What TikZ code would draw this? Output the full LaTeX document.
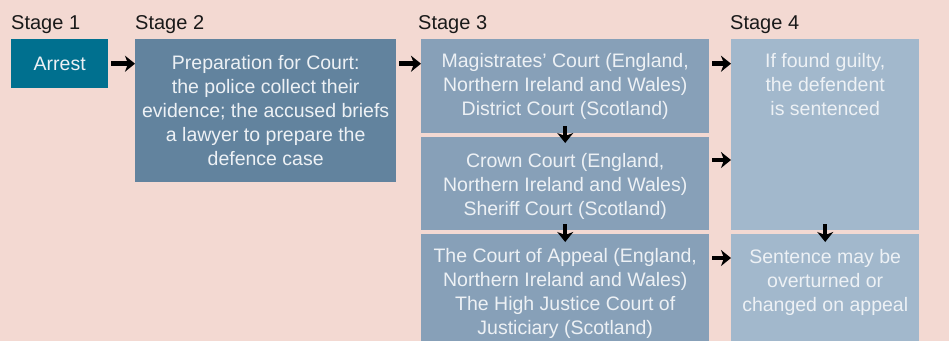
\documentclass[tikz,border=0pt]{standalone}
\usepackage{fontspec}
\setmainfont{Liberation Sans}
\usetikzlibrary{arrows.meta,positioning}

\definecolor{bgpink}{HTML}{F3D9D2}
\definecolor{arrestblue}{HTML}{00708F}
\definecolor{prepblue}{HTML}{62839E}
\definecolor{courtblue}{HTML}{87A0B8}
\definecolor{sentblue}{HTML}{A2B8CC}
\definecolor{lighttext}{HTML}{EDF1F5}

\tikzset{
  panel/.style={rectangle, anchor=north west, inner sep=0pt, text=lighttext,
    align=center, font=\fontsize{19.5}{24}\selectfont},
  paneltxt/.style={inner sep=0pt, text=lighttext, align=center,
    font=\fontsize{19.5}{24}\selectfont},
  stagelbl/.style={inner sep=0pt, anchor=base west, text=black!90,
    font=\fontsize{20}{24}\selectfont},
  flow/.style={-{Stealth[length=10pt 0 0,width=16pt 0 0,inset=3pt 0 0]}, line width=4.5pt,
    shorten <=3pt}
}

\begin{document}
\begin{tikzpicture}[x=1pt, y=-1pt]
  \fill[bgpink] (0,0) rectangle (949,341);
  \useasboundingbox (0,0) rectangle (949,341);

  \foreach \s/\x in {1/11, 2/135, 3/418, 4/730}{
    \node[stagelbl] (stage\s) at (\x, 29) {Stage \s};
  }

  % stage 1 and 2
  \node[panel, fill=arrestblue, minimum width=97, minimum height=49] (arrest) at (11,39) {Arrest};
  \node[panel, fill=prepblue, minimum width=261, minimum height=143] (prep) at (135,39)
    {Preparation for Court:\\the police collect their\\evidence; the accused briefs\\a lawyer to prepare the\\defence case};

  % stage 3
  \node[panel, fill=courtblue, minimum width=288, minimum height=94] (magis) at (421,39) {};
  \node[panel, fill=courtblue, minimum width=288, minimum height=93] (crown) at (421,137) {};
  \node[panel, fill=courtblue, minimum width=288, minimum height=107] (appeal) at (421,234) {};
  \node[paneltxt, below=14pt of magis.north] (magistxt)
    {Magistrates’ Court (England,\\Northern Ireland and Wales)\\District Court (Scotland)};
  \node[paneltxt, below=16pt of crown.north] (crowntxt)
    {Crown Court (England,\\Northern Ireland and Wales)\\Sheriff Court (Scotland)};
  \node[paneltxt, below=14pt of appeal.north] (appealtxt)
    {The Court of Appeal (England,\\Northern Ireland and Wales)\\The High Justice Court of\\Justiciary (Scotland)};

  % stage 4
  \node[panel, fill=sentblue, minimum width=188, minimum height=191] (guilty) at (731,39) {};
  \node[panel, fill=sentblue, minimum width=188, minimum height=107] (overturn) at (731,234) {};
  \node[paneltxt, below=14pt of guilty.north] (guiltytxt)
    {If found guilty,\\the defendent\\is sentenced};
  \node[paneltxt, below=15pt of overturn.north] (overturntxt)
    {Sentence may be\\overturned or\\changed on appeal};

  % arrows
  \path ([yshift=-23pt]crown.north east) coordinate (crownout);
  \path ([yshift=-24pt]appeal.north east) coordinate (appealout);
  \draw[flow] (arrest.east) -- (arrest.east -| prep.west);
  \draw[flow] (arrest.east -| prep.east) -- (arrest.east -| magis.west);
  \draw[flow] (arrest.east -| magis.east) -- (arrest.east -| guilty.west);
  \draw[flow] (crownout) -- (crownout -| guilty.west);
  \draw[flow] (appealout) -- (appealout -| overturn.west);
  \draw[flow] ([yshift=10pt]magis.south) -- ([yshift=-6pt]crown.north);
  \draw[flow] ([yshift=9pt]crown.south) -- ([yshift=-8pt]appeal.north);
  \draw[flow] ([yshift=9pt]guilty.south) -- ([yshift=-8pt]overturn.north);
\end{tikzpicture}
\end{document}
